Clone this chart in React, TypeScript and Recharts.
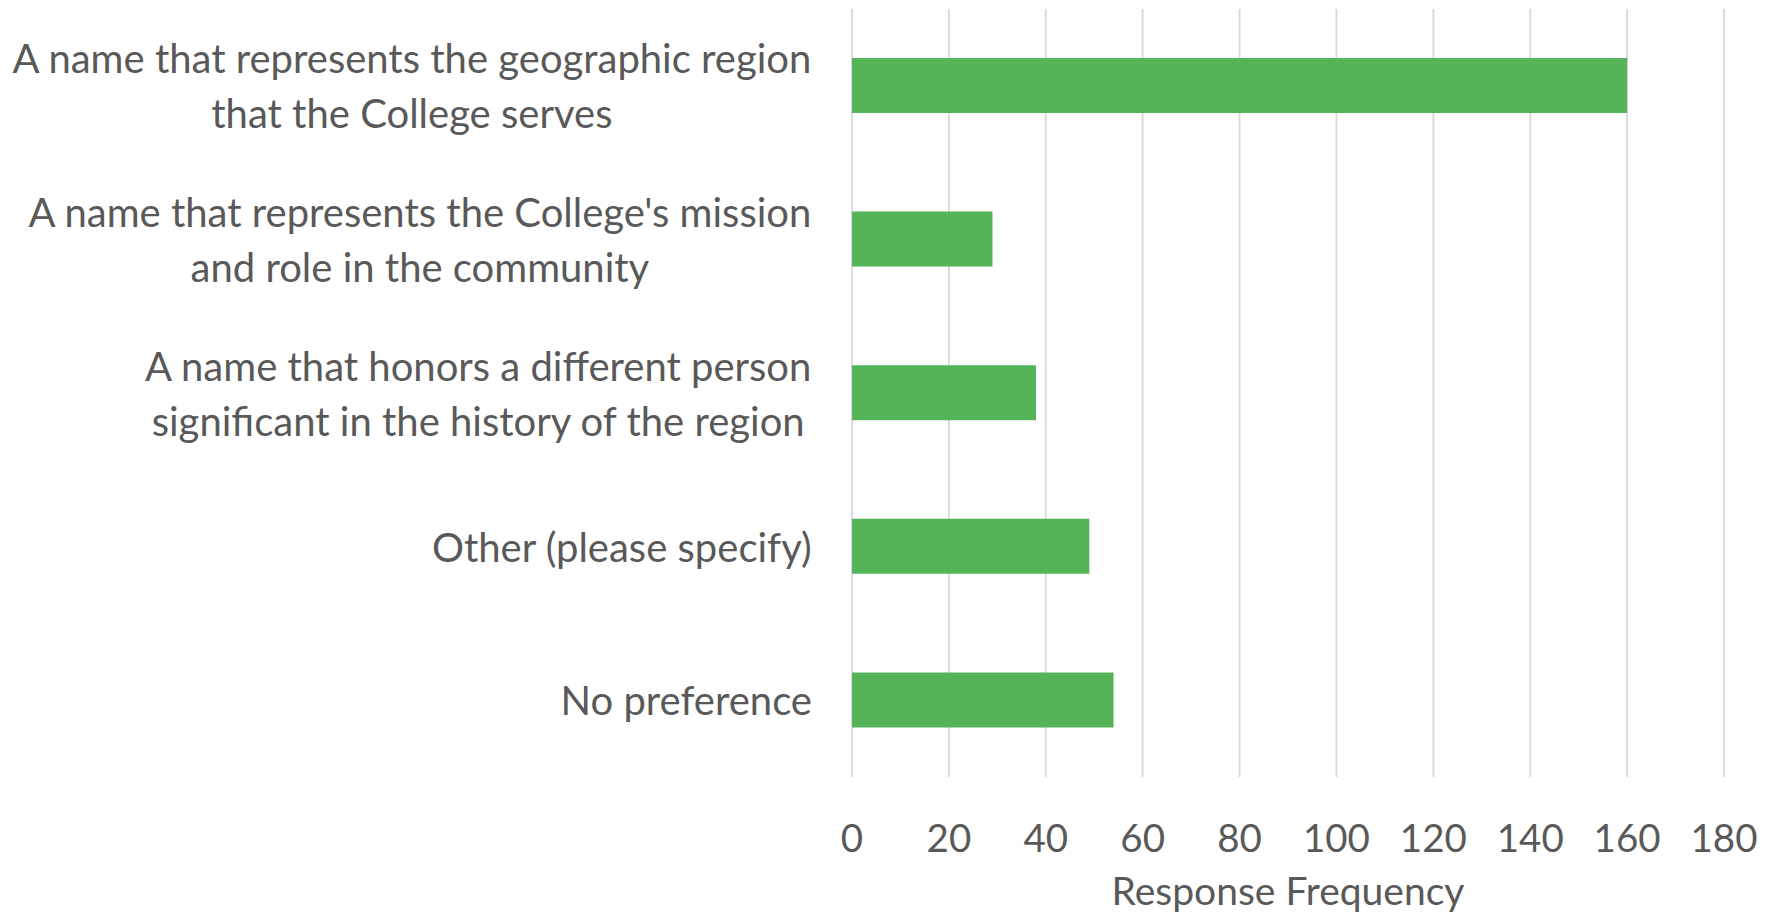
import React from "react";
import { BarChart, Bar, XAxis, YAxis, CartesianGrid } from "recharts";

const categories = [
  "A name that represents the geographic region\nthat the College serves",
  "A name that represents the College's mission\nand role in the community",
  "A name that honors a different person\nsignificant in the history of the region",
  "Other (please specify)",
  "No preference",
];
const values = [160, 29, 38, 49, 54];
const xTicks = [0, 20, 40, 60, 80, 100, 120, 140, 160, 180];
const axisTitle = "Response Frequency";

const data = categories.map((name, i) => ({ name, value: values[i] }));

const FONT = "Lato";
const FS = 40;
const FS_TICK = 38.5;
const FS_TITLE = 39;
const TEXT = "#595959";

let ctx: CanvasRenderingContext2D | null = null;
const measure = (t: string) => {
  if (!ctx) ctx = document.createElement("canvas").getContext("2d");
  if (!ctx) return t.length * FS * 0.45;
  ctx.font = `${FS}px ${FONT}`;
  return ctx.measureText(t).width;
};

const YTick = (props: any) => {
  const { x, y, payload } = props;
  const lines: string[] = String(payload.value).split("\n");
  const maxW = Math.max(...lines.map(measure));
  const cx = x - 40 - maxW / 2;
  const lh = 55;
  const start = y - ((lines.length - 1) * lh) / 2;
  return (
    <g>
      {lines.map((l, i) => (
        <text
          key={i}
          x={cx}
          y={start + i * lh}
          textAnchor="middle"
          dominantBaseline="central"
          fill={TEXT}
          fontSize={FS}
          fontFamily={FONT}
        >
          {l}
        </text>
      ))}
    </g>
  );
};

const XTick = (props: any) => {
  const { x, y, payload } = props;
  return (
    <text
      x={x}
      y={y + 60}
      textAnchor="middle"
      dominantBaseline="central"
      fill={TEXT}
      fontSize={FS_TICK}
      fontFamily={FONT}
    >
      {payload.value}
    </text>
  );
};

const XLabel = (props: any) => {
  const vb = props.viewBox || {};
  return (
    <text
      x={vb.x + vb.width / 2}
      y={vb.y + 113}
      textAnchor="middle"
      dominantBaseline="central"
      fill={TEXT}
      fontSize={FS_TITLE}
      fontFamily={FONT}
    >
      {axisTitle}
    </text>
  );
};

export default function App() {
  return (
    <div style={{ position: "absolute", left: 0, top: 0, width: 1765, height: 914, background: "#fff" }}>
      <BarChart
        width={1765}
        height={914}
        data={data}
        layout="vertical"
        margin={{ top: 9, right: 41, bottom: 0, left: 0 }}
      >
        <CartesianGrid horizontal={false} vertical={true} stroke="#d9d9d9" strokeWidth={1.8} />
        <XAxis
          type="number"
          domain={[0, 180]}
          ticks={xTicks}
          axisLine={false}
          tickLine={false}
          tickSize={0}
          tickMargin={0}
          height={137}
          tick={<XTick />}
          interval={0}
          label={<XLabel />}
        />
        <YAxis
          type="category"
          dataKey="name"
          width={852}
          axisLine={false}
          tickLine={false}
          tickSize={0}
          tickMargin={0}
          tick={<YTick />}
          interval={0}
        />
        <Bar dataKey="value" fill="#55B458" barSize={55} isAnimationActive={false} />
      </BarChart>
    </div>
  );
}
